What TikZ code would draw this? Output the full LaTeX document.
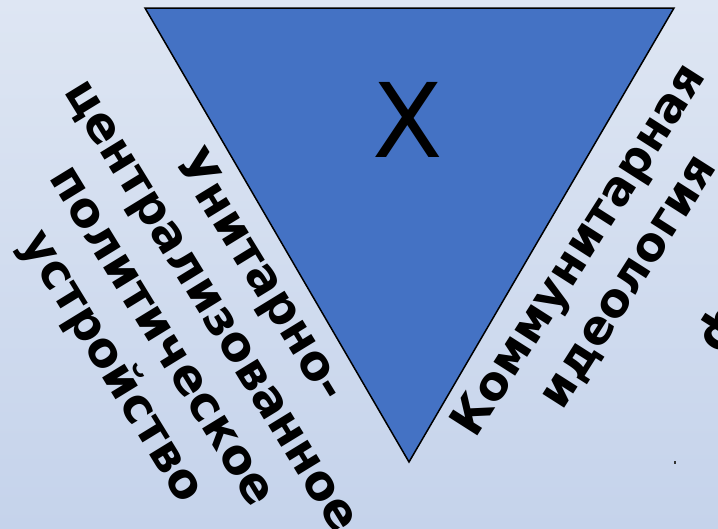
\documentclass[tikz,border=0pt]{standalone}
\usepackage{fontspec}
\setmainfont{DejaVu Sans}
\definecolor{bgtop}{HTML}{DEE6F3}
\definecolor{bgbot}{HTML}{C5D3EB}
\definecolor{tri}{HTML}{4472C4}
\tikzset{
  sidetext/.style={align=center, inner sep=0pt, font=\bfseries\fontsize{48}{58}\selectfont},
  bigx/.style={inner sep=0pt, font=\fontsize{103}{110}\selectfont}
}
\begin{document}
\begin{tikzpicture}[x=1pt,y=-1pt]
\useasboundingbox (0,0) rectangle (718,528);
\clip (0,0) rectangle (718,528);
\shade[top color=bgtop, bottom color=bgbot] (0,0) rectangle (718,528);
\coordinate (A) at (145,8);
\coordinate (B) at (674,8);
\coordinate (C) at (409,462);
\draw[fill=tri, line width=1.5pt, line join=miter] (A) -- (B) -- (C) -- cycle;
\node[bigx] (X) at (408,120) {X};
\node[sidetext, rotate=-58.5] (left) at (185,322) {Унитарно-\\централизованное\\политическое\\устройство};
\node[sidetext, font=\bfseries\fontsize{47}{58}\selectfont, rotate=57.5] (right) at (604,266) {Коммунитарная\\идеология};
\node[sidetext, rotate=57.5] (frag) at (723,329) {ф};
\fill[black!80] (673.5,461) rectangle (675.5,464);
\end{tikzpicture}
\end{document}
